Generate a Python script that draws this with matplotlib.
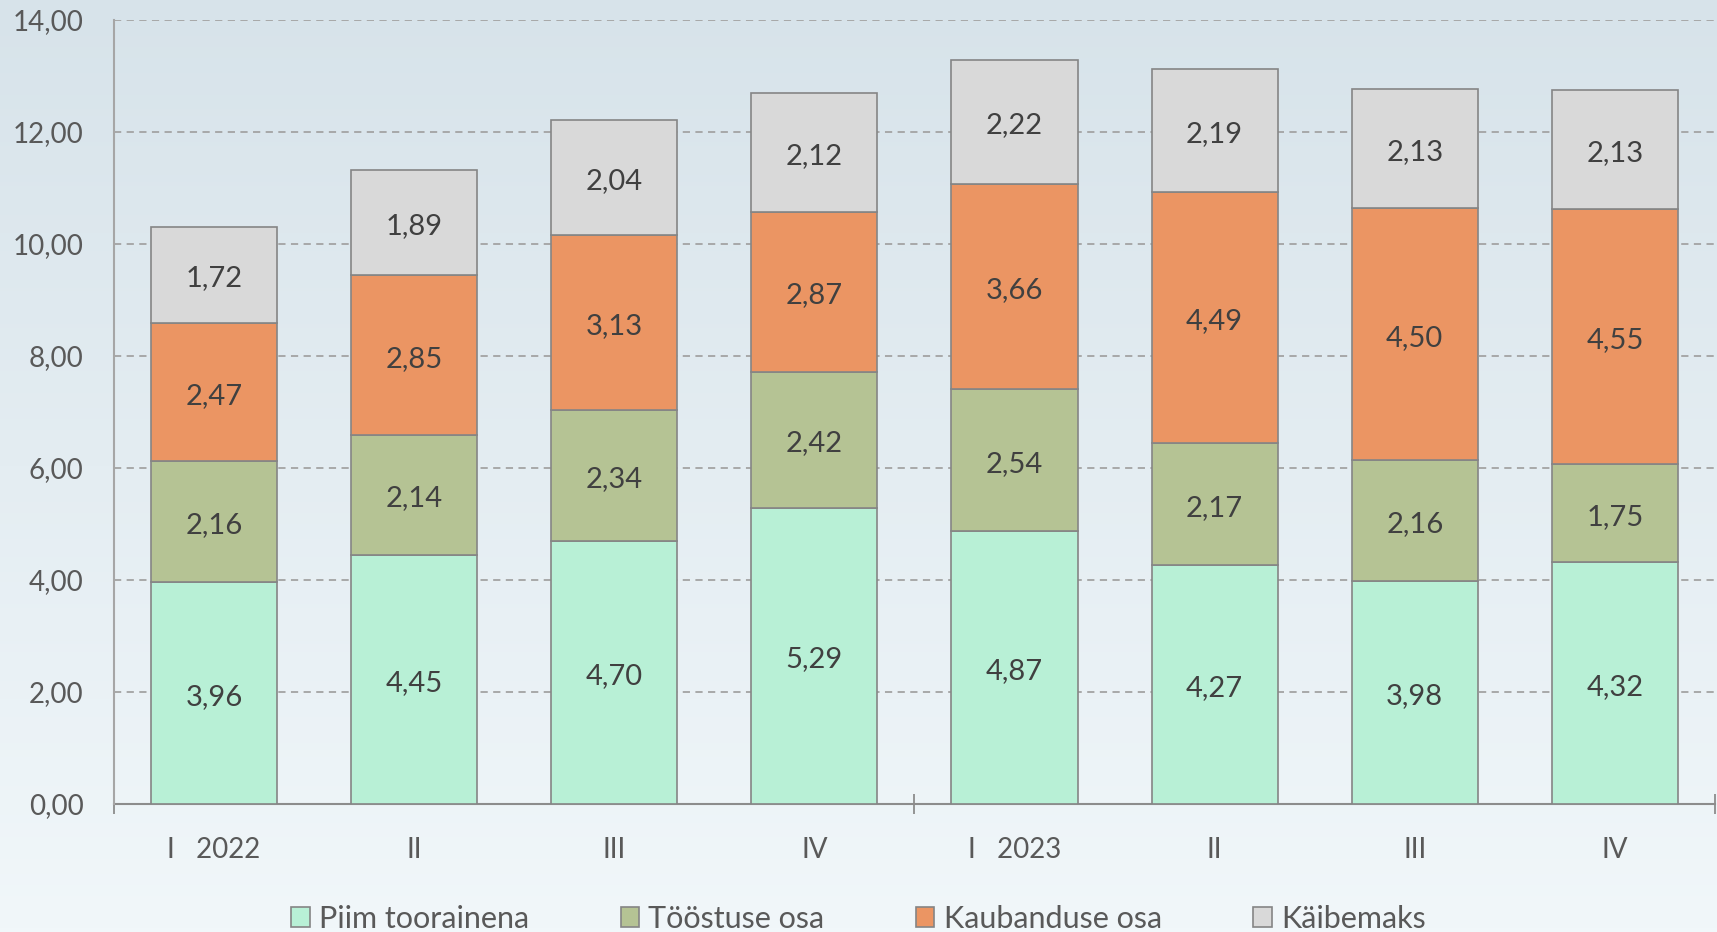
import numpy as np
import matplotlib
matplotlib.use("Agg")
import matplotlib.pyplot as plt
from matplotlib.colors import LinearSegmentedColormap

plt.rcParams['font.family'] = ['Lato', 'DejaVu Sans']

# data
kvartalid = ["I   2022", "II", "III", "IV", "I   2023", "II", "III", "IV"]
piim = [3.96, 4.45, 4.70, 5.29, 4.87, 4.27, 3.98, 4.32]
toostus = [2.16, 2.14, 2.34, 2.42, 2.54, 2.17, 2.16, 1.75]
kaubandus = [2.47, 2.85, 3.13, 2.87, 3.66, 4.49, 4.50, 4.55]
kaibemaks = [1.72, 1.89, 2.04, 2.12, 2.22, 2.19, 2.13, 2.13]
seeriad = ["Piim toorainena", "Tööstuse osa", "Kaubanduse osa", "Käibemaks"]
yticks = [0, 2, 4, 6, 8, 10, 12, 14]

colors = ["#b8f0d6", "#b5c394", "#eb9563", "#d9d9d9"]
edge = "#858585"
txt = "#404040"

fig = plt.figure(figsize=(17.17, 9.32), dpi=100)

# background gradient
bg = fig.add_axes([0, 0, 1, 1], zorder=-10)
cmap = LinearSegmentedColormap.from_list("bg", ["#d7e3ea", "#f1f7fa"])
bg.imshow(np.linspace(0, 1, 256).reshape(-1, 1), aspect="auto", cmap=cmap,
          extent=[0, 1, 0, 1])
bg.axis("off")

ax = fig.add_axes([0.0664, 0.1373, 0.9324, 0.8412])
ax.set_facecolor("none")

x = np.arange(len(kvartalid))
bottom = np.zeros(len(x))
for vals, c, name in zip([piim, toostus, kaubandus, kaibemaks], colors, seeriad):
    vals = np.array(vals)
    ax.bar(x, vals, 0.63, bottom=bottom, color=c, edgecolor=edge,
           linewidth=1.2, label=name, zorder=3)
    for xi, b, v in zip(x, bottom, vals):
        ax.annotate(f"{v:.2f}".replace(".", ","), (xi, b + v / 2),
                    xytext=(0, -2.5), textcoords="offset points",
                    ha="center", va="center", fontsize=21, color=txt, zorder=4)
    bottom += vals

ax.set_xlim(-0.5, 7.5)
ax.set_ylim(0, 14)
ax.set_yticks(yticks)
ax.set_yticklabels([f"{v:.2f}".replace(".", ",") for v in yticks],
                   fontsize=20, color="#595959")
ax.tick_params(axis="y", length=0, pad=22)
ax.yaxis.grid(True, linestyle=(0, (4, 3)), color="#a3a3a3", linewidth=1.3, zorder=0)

ax.set_xticks([-0.5, 3.5, 7.5])
ax.set_xticklabels([])
ax.tick_params(axis="x", which="major", direction="inout", length=14,
               color="#8c8c8c", width=1.3)
ax.set_xticks(x, minor=True)
ax.set_xticklabels(kvartalid, minor=True, fontsize=20, color="#595959")
ax.tick_params(axis="x", which="minor", length=0, pad=24)

for s in ["top", "right"]:
    ax.spines[s].set_visible(False)
ax.spines["left"].set_color("#a6a6a6")
ax.spines["left"].set_linewidth(1.5)
ax.spines["bottom"].set_color("#8c8c8c")
ax.spines["bottom"].set_linewidth(1.5)
ax.spines["left"].set_zorder(5)

fig.legend(loc="center", bbox_to_anchor=(0.5, 0.014), ncol=4, frameon=False,
           fontsize=22, labelcolor="#595959", handlelength=0.6, handleheight=0.6,
           handletextpad=0.3, columnspacing=3.0, borderaxespad=0)

fig.savefig("out.png", dpi=100)
